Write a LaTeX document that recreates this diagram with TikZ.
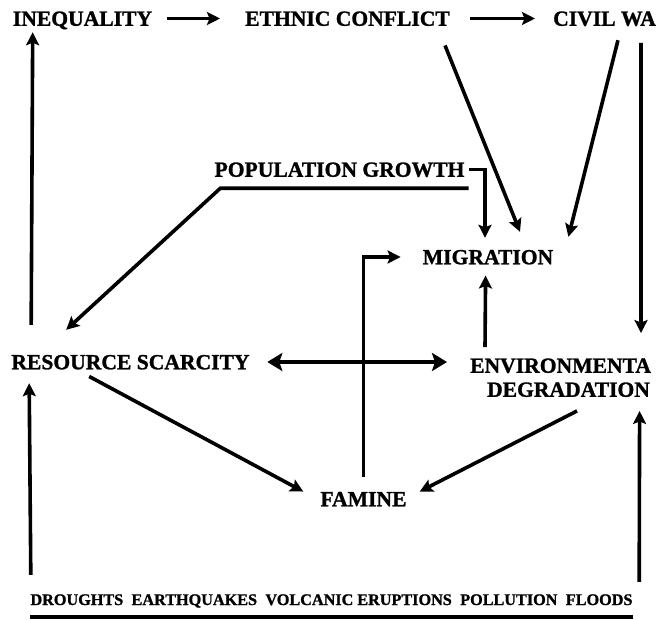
\documentclass[tikz,border=0pt]{standalone}
\usepackage{fontspec}
\setmainfont{Liberation Serif}[BoldFeatures={FakeBold=1.2}]
\usetikzlibrary{arrows.meta,calc}
\begin{document}
\begin{tikzpicture}[x=1pt,y=-1pt,
  lab/.style={font=\bfseries\fontsize{21.6}{24}\selectfont, inner sep=0pt, text height=14.5pt, text depth=0pt},
  arr/.style={line width=3.6pt, -{Stealth[length=13pt,width=13pt,inset=2.5pt]}},
  dbl/.style={line width=3.6pt, {Stealth[length=15pt,width=18pt,inset=3pt]}-{Stealth[length=15pt,width=18pt,inset=3pt]}}]
\useasboundingbox (0,0) rectangle (658,619);
\fill[white] (0,0) rectangle (658,619);
% nodes
\node[lab] (ineq) at (82.5,18.5) {INEQUALITY};
\node[lab] (ethnic) at (347.5,18.5) {ETHNIC CONFLICT};
\node[lab,anchor=east] (civil) at (656,18.5) {CIVIL WA};
\node[lab] (pop) at (339.5,169.5) {POPULATION GROWTH};
\node[lab] (mig) at (488,257) {MIGRATION};
\node[lab] (res) at (130.5,362) {RESOURCE SCARCITY};
\node[lab,anchor=west] (env) at (470,365.5) {ENVIRONMENTA};
\node[lab] (env2) at (568.5,389.5) {DEGRADATION};
\node[lab] (fam) at (363.5,499) {FAMINE};
\node[font=\bfseries\fontsize{16.2}{18}\selectfont, inner sep=0pt, text height=10pt, text depth=0pt] (bot) at (331.5,600)
  {\makebox[602pt][s]{DROUGHTS\hfill EARTHQUAKES\hfill VOLCANIC\hspace{4pt}ERUPTIONS\hfill POLLUTION\hfill FLOODS}};
% bottom rule
\draw[line width=4pt] ([yshift=-12pt]bot.south west) -- ([yshift=-12pt]bot.south east);
% top row
\draw[arr, shorten <=15pt, shorten >=25pt] (ineq.east) -- (ethnic.west);
\draw[arr, shorten <=20pt, shorten >=18pt] (ethnic.east) -- (ethnic.east -| civil.west);
% diagonals into migration
\draw[arr] ($(ethnic.south east)+(-5,19.5)$) -- ($(mig.north)+(32,-17.75)$);
\draw[arr] ($(civil.south west)+(65,14.25)$) -- ($(mig.north east)+(15,-12.75)$);
% civil war down to environment
\draw[arr] ($(civil.south west)+(88,17)$) -- ($(env.north west)+(171,-25)$);
% resource scarcity up to inequality
\draw[arr] ($(res.north west)+(20,-29.75)$) -- ($(ineq.south west)+(20,6.25)$);
% population growth
\draw[arr] ([xshift=4.5pt]pop.east) -| ($(mig.north)+(-3,-11.75)$);
\draw[arr, line join=miter] ($(pop.south east)+(4,11.25)$) -- ($(pop.south west)+(6,11.25)$) -- ($(res.north west)+(55,-24.75)$);
% resource <-> environment
\draw[dbl, shorten <=17.5pt, shorten >=23pt] (res.east) -- (res.east -| env.west);
% famine to migration
\draw[arr, shorten <=15pt, shorten >=22pt, line join=miter] (fam.north) |- (mig.west);
% environment to migration
\draw[arr] ($(env.north west)+(15,-11)$) -- ($(mig.south west)+(63,11)$);
% into famine
\draw[arr] ($(res.south west)+(78,7)$) -- ($(fam.north west)+(-17,0)$);
\draw[arr] ($(env2.south)+(8.5,14)$) -- ($(fam.north east)+(13,0)$);
% natural hazards up
\draw[arr] ($(bot.north west)+(0.5,-20)$) -- ($(res.south west)+(18,13.75)$);
\draw[arr] ($(bot.north east)+(6.5,-13)$) -- ($(env2.south west)+(152.7,14)$);
\end{tikzpicture}
\end{document}
